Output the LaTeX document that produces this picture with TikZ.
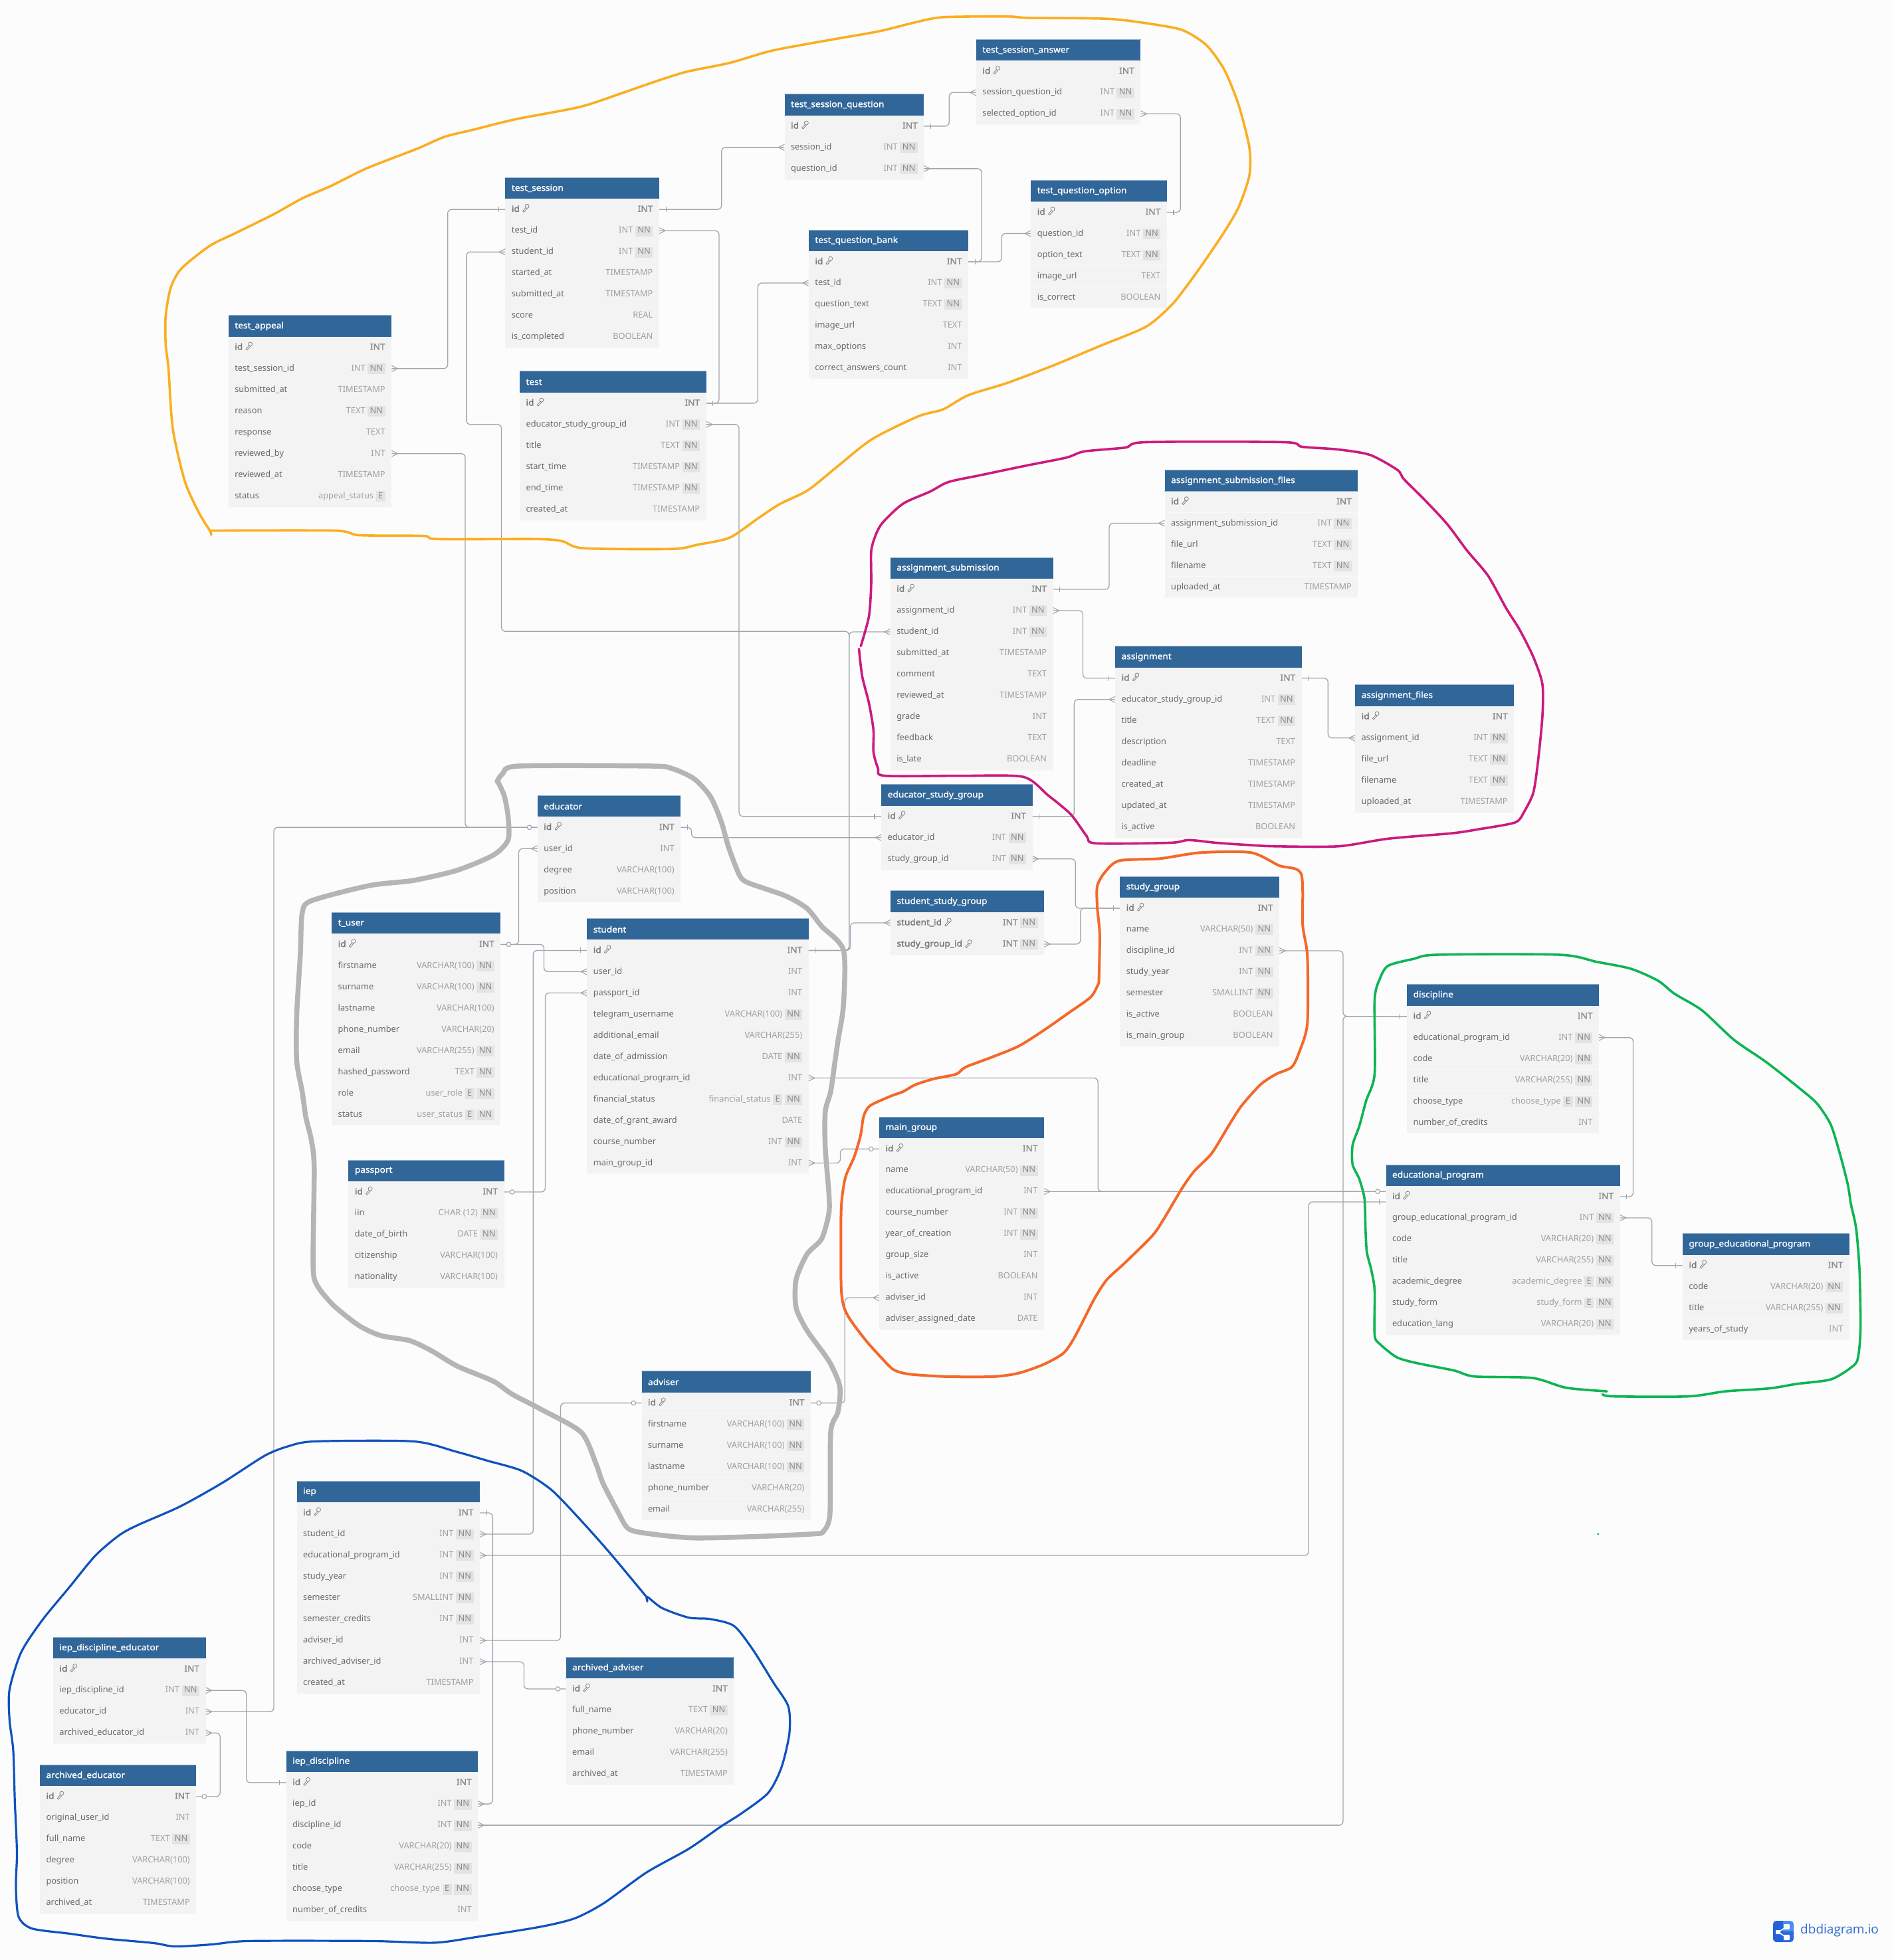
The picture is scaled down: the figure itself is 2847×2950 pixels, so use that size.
\documentclass[tikz,border=0pt]{standalone}
\usepackage{fontspec}
\setmainfont{Noto Sans}[BoldFont={Noto Sans},BoldFeatures={FakeBold=1.5,FakeStretch=1.07}]
\newfontfamily\logofont{Open Sans}
\usetikzlibrary{calc}
\definecolor{pagebg}{HTML}{FCFCFC}
\definecolor{hdrblue}{HTML}{316699}
\definecolor{hdredge}{HTML}{8FAFCB}
\definecolor{rowfill}{HTML}{F3F3F3}
\definecolor{rowline}{HTML}{F8F8F8}
\definecolor{txname}{HTML}{6A6A6A}
\definecolor{txtype}{HTML}{A0A0A0}
\definecolor{txpk}{HTML}{777777}
\definecolor{tagbg}{HTML}{E3E3E3}
\definecolor{tagtx}{HTML}{8A8A8A}
\definecolor{connc}{HTML}{A2A5AF}
\definecolor{hamber}{HTML}{FBAE22}
\definecolor{hmagenta}{HTML}{CC1A7E}
\definecolor{hgrey}{HTML}{B5B5B5}
\definecolor{hred}{HTML}{F4692A}
\definecolor{hgreen}{HTML}{0DB553}
\definecolor{hblue}{HTML}{0F52BE}
\definecolor{logoa}{HTML}{2462D6}
\definecolor{logob}{HTML}{4A8CF2}
\definecolor{logot}{HTML}{2D68CE}
\newcommand\tagbox[1]{\hspace{3.5pt}{\setlength{\fboxsep}{1.5pt}\colorbox{tagbg}{\rule[-3.2pt]{0pt}{13pt}\hspace{2pt}\textnormal{\textcolor{tagtx}{#1}}\hspace{2pt}}}}
\newcommand\NN{\tagbox{NN}}
\newcommand\EE{\tagbox{E}}
\tikzset{
  conn/.style={draw=connc,line width=1.3pt,rounded corners=6pt},
  mk/.style={draw=connc,line width=1.1pt},
  rowbg/.style={fill=rowfill,inner sep=0pt,minimum height=32pt,anchor=west},
  rname/.style={inner sep=0pt,anchor=mid west,text=txname,font=\fontsize{12.8pt}{15pt}\selectfont},
  rtype/.style={inner sep=0pt,anchor=mid east,text=txtype,font=\fontsize{12.8pt}{15pt}\selectfont},
  pkname/.style={rname,text=txpk,font=\fontsize{12.8pt}{15pt}\selectfont\bfseries},
  pktype/.style={rtype,text=txpk!85,font=\fontsize{12.8pt}{15pt}\selectfont\bfseries},
  hdr/.style={fill=hdrblue,text=white,anchor=north west,inner ysep=0pt,inner xsep=9.5pt,minimum height=32pt,align=left,font=\fontsize{12.8pt}{15pt}\selectfont\bfseries},
  keyic/.style={draw=txpk,line width=0.7pt,line join=round},
  stk/.style={line width=#1,line cap=round,line join=round},
}
\newcommand\dbtable[7]{%
  \pgfmathsetmacro\wid{(#3-#2)*1.8817}
  \node[hdr,minimum width=\wid pt,text width=\wid pt-19pt] (#1-h) at (#2,#4) {#5};
  \draw[hdredge,line width=0.9pt] (#1-h.north west) -- (#1-h.north east);
  \draw[hdredge,line width=0.9pt] (#1-h.south west) -- (#1-h.south east);
  \foreach \rn/\rt/\rf [count=\k] in {#7}{
    \pgfmathsetmacro\yy{#4+25.5+17.006*(\k-1)}
    \node[rowbg,minimum width=\wid pt] (#1-\k) at (#2,\yy) {};
    \draw[rowline,line width=0.8pt] (#1-\k.south west) -- (#1-\k.south east);
    \ifnum\k>#6\relax
      \node[rname] (#1-\k-n) at ([xshift=9.5pt,yshift=-1pt]#1-\k.west) {\rn};
      \node[rtype] (#1-\k-t) at ([xshift=-9.5pt,yshift=-1pt]#1-\k.east) {\rt\rf};
    \else
      \node[pkname] (#1-\k-n) at ([xshift=9.5pt,yshift=-1pt]#1-\k.west) {\rn};
      \node[pktype] (#1-\k-t) at ([xshift=-9.5pt,yshift=-1pt]#1-\k.east) {\rt\rf};
      \begin{scope}[shift={([xshift=8.5pt,yshift=0.5pt]#1-\k-n.east)}]
        \draw[keyic] (2.6pt,3.2pt) circle[radius=3pt];
        \draw[keyic] (0.7pt,1pt) -- (-4pt,-4.2pt) -- (-2.2pt,-5.8pt) -- (3pt,0.2pt);
      \end{scope}
    \fi
  }
}
\newcommand\linkhv[3]{\draw[conn] (#1) -- (#2,0 |- #1) -- (#2,0 |- #3) -- (#3);}
\newcommand\manyE[1]{\draw[mk] ([yshift=4.5pt]#1.east) -- ([xshift=9pt]#1.east) -- ([yshift=-4.5pt]#1.east);}
\newcommand\manyW[1]{\draw[mk] ([yshift=4.5pt]#1.west) -- ([xshift=-9pt]#1.west) -- ([yshift=-4.5pt]#1.west);}
\newcommand\oneE[1]{\draw[mk] ([xshift=10pt,yshift=4pt]#1.east) -- ([xshift=10pt,yshift=-4pt]#1.east);}
\newcommand\oneW[1]{\draw[mk] ([xshift=-10pt,yshift=4pt]#1.west) -- ([xshift=-10pt,yshift=-4pt]#1.west);}
\newcommand\zeroE[1]{\draw[mk,fill=pagebg] ([xshift=12pt]#1.east) circle[radius=3.3pt];}
\newcommand\zeroW[1]{\draw[mk,fill=pagebg] ([xshift=-12pt]#1.west) circle[radius=3.3pt];}
\catcode`\_=12
\begin{document}
\begin{tikzpicture}[x=1.8817pt,y=-1.8817pt]
\useasboundingbox (0pt,0pt) rectangle (2847pt,-2950pt);
\fill[pagebg] (0pt,0pt) rectangle (2847pt,-2950pt);

\dbtable{tsa}{780.5}{912}{31.5}{test_session_answer}{1}{id/INT/{},session_question_id/INT/\NN,selected_option_id/INT/\NN}
\dbtable{tsq}{627.3}{738.7}{75.4}{test_session_question}{1}{id/INT/{},session_id/INT/\NN,question_id/INT/\NN}
\dbtable{ts}{404}{527}{142}{test_session}{1}{id/INT/{},test_id/INT/\NN,student_id/INT/\NN,started_at/TIMESTAMP/{},submitted_at/TIMESTAMP/{},score/REAL/{},is_completed/BOOLEAN/{}}
\dbtable{tqo}{824.3}{933}{144.3}{test_question_option}{1}{id/INT/{},question_id/INT/\NN,option_text/TEXT/\NN,image_url/TEXT/{},is_correct/BOOLEAN/{}}
\dbtable{tqb}{646.6}{774.2}{183.9}{test_question_bank}{1}{id/INT/{},test_id/INT/\NN,question_text/TEXT/\NN,image_url/TEXT/{},max_options/INT/{},correct_answers_count/INT/{}}
\dbtable{ta}{182.6}{313}{252.3}{test_appeal}{1}{id/INT/{},test_session_id/INT/\NN,submitted_at/TIMESTAMP/{},reason/TEXT/\NN,response/TEXT/{},reviewed_by/INT/{},reviewed_at/TIMESTAMP/{},status/appeal_status/\EE}
\dbtable{tt}{415.5}{564.6}{297}{test}{1}{id/INT/{},educator_study_group_id/INT/\NN,title/TEXT/\NN,start_time/TIMESTAMP/\NN,end_time/TIMESTAMP/\NN,created_at/TIMESTAMP/{}}
\dbtable{asf}{931.3}{1085.8}{376}{assignment_submission_files}{1}{id/INT/{},assignment_submission_id/INT/\NN,file_url/TEXT/\NN,filename/TEXT/\NN,uploaded_at/TIMESTAMP/{}}
\dbtable{as}{711.9}{842}{445.9}{assignment_submission}{1}{id/INT/{},assignment_id/INT/\NN,student_id/INT/\NN,submitted_at/TIMESTAMP/{},comment/TEXT/{},reviewed_at/TIMESTAMP/{},grade/INT/{},feedback/TEXT/{},is_late/BOOLEAN/{}}
\dbtable{asg}{891.7}{1040.8}{517}{assignment}{1}{id/INT/{},educator_study_group_id/INT/\NN,title/TEXT/\NN,description/TEXT/{},deadline/TIMESTAMP/{},created_at/TIMESTAMP/{},updated_at/TIMESTAMP/{},is_active/BOOLEAN/{}}
\dbtable{af}{1083.6}{1210.6}{547.8}{assignment_files}{1}{id/INT/{},assignment_id/INT/\NN,file_url/TEXT/\NN,filename/TEXT/\NN,uploaded_at/TIMESTAMP/{}}
\dbtable{ed}{429.7}{544.2}{636.3}{educator}{1}{id/INT/{},user_id/INT/{},degree/VARCHAR(100)/{},position/VARCHAR(100)/{}}
\dbtable{esg}{704.7}{825.5}{627.5}{educator_study_group}{1}{id/INT/{},educator_id/INT/\NN,study_group_id/INT/\NN}
\dbtable{ssg}{712}{834.8}{712.6}{student_study_group}{2}{student_id/INT/\NN,study_group_id/INT/\NN}
\dbtable{sg}{895.5}{1022.9}{701}{study_group}{1}{id/INT/{},name/VARCHAR(50)/\NN,discipline_id/INT/\NN,study_year/INT/\NN,semester/SMALLINT/\NN,is_active/BOOLEAN/{},is_main_group/BOOLEAN/{}}
\dbtable{tu}{265.2}{400.2}{729.9}{t_user}{1}{id/INT/{},firstname/VARCHAR(100)/\NN,surname/VARCHAR(100)/\NN,lastname/VARCHAR(100)/{},phone_number/VARCHAR(20)/{},email/VARCHAR(255)/\NN,hashed_password/TEXT/\NN,role/user_role/\EE\NN,status/user_status/\EE\NN}
\dbtable{st}{469.3}{646.5}{734.7}{student}{1}{id/INT/{},user_id/INT/{},passport_id/INT/{},telegram_username/VARCHAR(100)/\NN,additional_email/VARCHAR(255)/{},date_of_admission/DATE/\NN,educational_program_id/INT/{},financial_status/financial_status/\EE\NN,date_of_grant_award/DATE/{},course_number/INT/\NN,main_group_id/INT/{}}
\dbtable{dis}{1125}{1278.5}{787.4}{discipline}{1}{id/INT/{},educational_program_id/INT/\NN,code/VARCHAR(20)/\NN,title/VARCHAR(255)/\NN,choose_type/choose_type/\EE\NN,number_of_credits/INT/{}}
\dbtable{mg}{703}{834.8}{893.5}{main_group}{1}{id/INT/{},name/VARCHAR(50)/\NN,educational_program_id/INT/{},course_number/INT/\NN,year_of_creation/INT/\NN,group_size/INT/{},is_active/BOOLEAN/{},adviser_id/INT/{},adviser_assigned_date/DATE/{}}
\dbtable{pp}{278.6}{403}{927.9}{passport}{1}{id/INT/{},iin/CHAR (12)/\NN,date_of_birth/DATE/\NN,citizenship/VARCHAR(100)/{},nationality/VARCHAR(100)/{}}
\dbtable{ep}{1108.2}{1295.3}{931.6}{educational_program}{1}{id/INT/{},group_educational_program_id/INT/\NN,code/VARCHAR(20)/\NN,title/VARCHAR(255)/\NN,academic_degree/academic_degree/\EE\NN,study_form/study_form/\EE\NN,education_lang/VARCHAR(20)/\NN}
\dbtable{gep}{1345.4}{1478.8}{986.7}{group_educational_program}{1}{id/INT/{},code/VARCHAR(20)/\NN,title/VARCHAR(255)/\NN,years_of_study/INT/{}}
\dbtable{adv}{513}{648.2}{1096.7}{adviser}{1}{id/INT/{},firstname/VARCHAR(100)/\NN,surname/VARCHAR(100)/\NN,lastname/VARCHAR(100)/\NN,phone_number/VARCHAR(20)/{},email/VARCHAR(255)/{}}
\dbtable{iep}{237.3}{383.6}{1184.6}{iep}{1}{id/INT/{},student_id/INT/\NN,educational_program_id/INT/\NN,study_year/INT/\NN,semester/SMALLINT/\NN,semester_credits/INT/\NN,adviser_id/INT/{},archived_adviser_id/INT/{},created_at/TIMESTAMP/{}}
\dbtable{ide}{42.4}{164.4}{1309.6}{iep_discipline_educator}{1}{id/INT/{},iep_discipline_id/INT/\NN,educator_id/INT/{},archived_educator_id/INT/{}}
\dbtable{aa}{452.5}{586.8}{1325.4}{archived_adviser}{1}{id/INT/{},full_name/TEXT/\NN,phone_number/VARCHAR(20)/{},email/VARCHAR(255)/{},archived_at/TIMESTAMP/{}}
\dbtable{ae}{31.8}{156.8}{1411.5}{archived_educator}{1}{id/INT/{},original_user_id/INT/{},full_name/TEXT/\NN,degree/VARCHAR(100)/{},position/VARCHAR(100)/{},archived_at/TIMESTAMP/{}}
\dbtable{idd}{228.8}{382.1}{1400.4}{iep_discipline}{1}{id/INT/{},iep_id/INT/\NN,discipline_id/INT/\NN,code/VARCHAR(20)/\NN,title/VARCHAR(255)/\NN,choose_type/choose_type/\EE\NN,number_of_credits/INT/{}}

% attachment points beside educational_program.id
\node[inner sep=0pt,minimum size=0pt] (epa) at (ep-1.west |- mg-3.east) {};
\node[inner sep=0pt,minimum size=0pt] (epb) at ([yshift=-8pt]ep-1.west) {};

% connectors
\linkhv{tsq-1.east}{759}{tsa-2.west}\oneE{tsq-1}\manyW{tsa-2}
\linkhv{tsa-3.east}{944}{tqo-1.east}\manyE{tsa-3}\oneE{tqo-1}
\linkhv{ts-1.east}{577}{tsq-2.west}\oneE{ts-1}\manyW{tsq-2}
\linkhv{tsq-3.east}{785}{tqb-1.east}\manyE{tsq-3}\oneE{tqb-1}
\linkhv{tqb-1.east}{801}{tqo-2.west}\manyW{tqo-2}
\linkhv{ts-2.east}{575}{tt-1.east}\manyE{ts-2}\oneE{tt-1}
\linkhv{tt-1.east}{606}{tqb-2.west}\manyW{tqb-2}
\linkhv{tt-2.east}{591}{esg-1.west}\manyE{tt-2}\oneW{esg-1}
\linkhv{ta-2.east}{358}{ts-1.west}\manyE{ta-2}\oneW{ts-1}
\draw[conn] (ts-3.west) -- (373,0 |- ts-3.west) -- (373,339.5) -- (401,339.5) -- (401,505) -- (679,505) -- (679,0 |- st-1.east) -- (st-1.east);
\manyW{ts-3}
\linkhv{ta-6.east}{372}{ed-1.west}\manyE{ta-6}
\linkhv{ide-3.east}{219}{ed-1.west}\manyE{ide-3}\zeroW{ed-1}
\linkhv{ed-1.east}{553}{esg-2.west}\oneE{ed-1}\manyW{esg-2}
\linkhv{esg-3.east}{860}{sg-1.west}\manyE{esg-3}\oneW{sg-1}
\linkhv{ssg-2.east}{864}{sg-1.west}\manyE{ssg-2}
\linkhv{asg-2.west}{859}{esg-1.east}\manyW{asg-2}\oneE{esg-1}
\linkhv{asg-1.east}{1062}{af-2.west}\oneE{asg-1}\manyW{af-2}
\linkhv{as-1.east}{887}{asf-2.west}\oneE{as-1}\manyW{asf-2}
\linkhv{as-2.east}{866}{asg-1.west}\manyE{as-2}\oneW{asg-1}
\linkhv{as-3.west}{679}{st-1.east}\manyW{as-3}\oneE{st-1}
\linkhv{ssg-1.west}{680}{st-1.east}\manyW{ssg-1}
\linkhv{tu-1.east}{414.8}{ed-2.west}\manyW{ed-2}
\linkhv{tu-1.east}{435}{st-2.west}\manyW{st-2}\zeroE{tu-1}
\linkhv{iep-2.east}{426.4}{st-1.west}\manyE{iep-2}\oneW{st-1}
\linkhv{pp-1.east}{436}{st-3.west}\zeroE{pp-1}\manyW{st-3}
\linkhv{st-7.east}{878}{epa.west}\manyE{st-7}
\draw[conn] (mg-3.east) -- (epa.west);
\manyE{mg-3}\zeroW{epa}
\linkhv{st-11.east}{672}{mg-1.west}\manyE{st-11}\zeroW{mg-1}
\linkhv{adv-1.east}{675.6}{mg-8.west}\zeroE{adv-1}\manyW{mg-8}
\linkhv{adv-1.west}{448.3}{iep-7.east}\zeroW{adv-1}\manyE{iep-7}
\linkhv{iep-1.east}{394}{idd-2.east}\oneE{iep-1}\manyE{idd-2}
\linkhv{iep-3.east}{1046.5}{epb.west}\manyE{iep-3}\oneW{epb}
\linkhv{sg-3.east}{1074}{dis-1.west}\manyE{sg-3}\oneW{dis-1}
\linkhv{idd-3.east}{1074}{dis-1.west}\manyE{idd-3}
\linkhv{dis-2.east}{1306}{ep-1.east}\manyE{dis-2}\oneE{ep-1}
\linkhv{ep-2.east}{1321}{gep-1.west}\manyE{ep-2}\oneW{gep-1}
\linkhv{iep-8.east}{419}{aa-1.west}\manyE{iep-8}\zeroW{aa-1}
\linkhv{ide-2.east}{197}{idd-1.west}\manyE{ide-2}\oneW{idd-1}
\linkhv{ide-4.east}{176}{ae-1.east}\manyE{ide-4}\zeroE{ae-1}

% hand-drawn outlines
\begin{scope}[x=1.0714pt,y=-0.5293pt,shift={(230pt,-10pt)}]
\draw[stk=3.6pt,hamber] plot[smooth,tension=0.45] coordinates {(80,1490)(255,1490)(290,1503)(380,1505)(400,1514)(540,1514)(575,1520)(605,1540)(730,1542)(765,1530)(810,1510)(850,1455)(880,1415)(920,1375)(960,1310)(1010,1230)(1075,1165)(1110,1145)(1145,1105)(1200,1070)(1265,1020)(1330,965)(1395,910)(1430,850)(1450,800)(1475,730)(1505,640)(1525,570)(1540,480)(1540,400)(1525,280)(1505,180)(1480,110)(1450,70)(1420,55)(1345,35)(1230,32)(1200,28)(1110,30)(1070,45)(1020,70)(950,95)(870,125)(810,160)(750,185)(710,210)(660,245)(600,285)(510,320)(450,350)(410,370)(370,405)(300,460)(250,510)(210,545)(170,590)(115,645)(80,680)(40,745)(25,800)(18,880)(18,960)(22,1030)(28,1200)(45,1350)(65,1440)(80,1490)(82,1502)};
\end{scope}
\begin{scope}[x=0.6824pt,y=-0.4082pt,shift={(1270pt,-650pt)}]
\draw[stk=3.6pt,hmagenta] plot[smooth,tension=0.45] coordinates {(37,790)(55,680)(60,560)(60,440)(70,380)(85,335)(130,265)(190,220)(230,185)(300,160)(400,125)(490,95)(530,72)(620,58)(665,38)(970,38)(1010,55)(1090,65)(1160,85)(1220,140)(1235,175)(1280,250)(1330,340)(1375,440)(1420,530)(1460,650)(1490,730)(1520,830)(1540,930)(1540,1050)(1530,1220)(1520,1330)(1500,1400)(1480,1440)(1400,1465)(1340,1480)(1200,1500)(1090,1528)(950,1528)(880,1522)(820,1515)(760,1505)(720,1515)(555,1517)(535,1490)(500,1410)(450,1340)(395,1272)(260,1268)(90,1268)(75,1240)(65,1180)(65,1100)(55,1000)(40,900)(33,800)};
\end{scope}
\begin{scope}[x=0.5485pt,y=-0.7653pt,shift={(430pt,-1130pt)}]
\draw[stk=7.5pt,hgrey] plot[smooth,tension=0.45] coordinates {(580,60)(595,45)(640,30)(1000,30)(1060,35)(1120,55)(1165,90)(1195,140)(1215,190)(1245,245)(1270,260)(1370,285)(1430,310)(1470,345)(1530,392)(1530,500)(1515,570)(1505,620)(1495,670)(1480,710)(1480,780)(1490,870)(1490,910)(1470,960)(1430,990)(1400,1040)(1400,1095)(1430,1140)(1490,1200)(1520,1250)(1515,1300)(1495,1340)(1493,1500)(1475,1535)(1450,1540)(1300,1545)(1120,1548)(1000,1540)(940,1530)(910,1495)(870,1440)(850,1400)(810,1340)(700,1295)(620,1265)(570,1240)(470,1210)(400,1180)(340,1160)(260,1150)(200,1130)(130,1090)(85,1050)(75,1010)(78,820)(70,765)(55,720)(45,670)(30,610)(30,520)(40,400)(45,320)(70,295)(230,265)(350,255)(470,235)(570,205)(610,175)(610,130)(600,90)(585,65)(580,60)};
\end{scope}
\begin{scope}[x=0.4719pt,y=-0.5293pt,shift={(1250pt,-1270pt)}]
\draw[stk=4pt,hred] plot[smooth,tension=0.45] coordinates {(855,395)(858,260)(850,180)(850,120)(875,80)(920,48)(1050,42)(1180,25)(1340,25)(1430,62)(1500,85)(1505,230)(1520,320)(1520,510)(1495,590)(1470,635)(1420,655)(1370,685)(1310,745)(1270,800)(1215,880)(1160,930)(1120,980)(1060,1070)(1025,1115)(940,1190)(880,1240)(840,1295)(800,1365)(770,1415)(740,1450)(680,1480)(600,1505)(520,1515)(370,1515)(250,1508)(200,1495)(160,1460)(110,1410)(60,1350)(40,1310)(33,1250)(33,1050)(40,980)(50,940)(75,890)(95,830)(105,775)(125,745)(190,718)(230,705)(270,685)(330,668)(400,655)(430,635)(510,608)(600,575)(680,530)(760,480)(830,435)(855,395)};
\end{scope}
\begin{scope}[x=0.5102pt,y=-0.4464pt,shift={(2020pt,-1420pt)}]
\draw[stk=3.6pt,hgreen] plot[smooth,tension=0.45] coordinates {(780,1510)(660,1498)(560,1465)(390,1460)(330,1440)(220,1415)(160,1395)(110,1350)(95,1320)(95,1170)(85,1100)(72,1040)(68,960)(65,860)(50,795)(30,745)(30,680)(50,615)(70,530)(95,440)(95,190)(110,120)(135,75)(210,52)(280,38)(640,38)(750,62)(850,85)(930,125)(980,170)(1060,225)(1155,325)(1250,400)(1350,490)(1400,540)(1440,610)(1465,700)(1490,810)(1500,880)(1515,960)(1525,1100)(1528,1300)(1520,1400)(1500,1430)(1440,1470)(1340,1485)(1260,1500)(1130,1510)(1020,1527)(800,1527)(767,1520)};
\end{scope}
\begin{scope}[x=0.7972pt,y=-0.5102pt,shift={(0pt,-2150pt)}]
\draw[stk=3.2pt,hblue] plot[smooth,tension=0.45] coordinates {(1222,510)(1222,497)(1250,530)(1300,558)(1340,562)(1385,582)(1420,650)(1460,750)(1488,820)(1490,900)(1475,1000)(1450,1075)(1400,1135)(1360,1175)(1300,1240)(1220,1310)(1140,1400)(1085,1445)(1020,1470)(900,1500)(820,1517)(700,1512)(470,1512)(400,1522)(330,1528)(290,1518)(200,1505)(130,1490)(60,1475)(35,1440)(30,1350)(32,1250)(28,1100)(25,950)(18,860)(18,770)(40,660)(80,565)(130,470)(180,375)(225,315)(260,285)(340,230)(420,160)(500,80)(545,52)(595,38)(780,38)(860,68)(920,95)(985,125)(1040,180)(1090,260)(1150,365)(1222,500)};
\end{scope}
\fill[hgreen!70!teal] (1278,1227) circle[radius=1.6pt];

% logo
\fill[logob,rounded corners=5pt] (2668pt,-2891pt) rectangle (2699pt,-2923pt);
\begin{scope}
\clip[rounded corners=5pt] (2668pt,-2891pt) rectangle (2699pt,-2923pt);
\fill[logoa] (2668pt,-2891pt) rectangle (2683pt,-2923pt);
\fill[logoa!80!logob] (2683pt,-2907pt) rectangle (2699pt,-2923pt);
\end{scope}
\draw[white,line width=1.6pt] (2688pt,-2900pt) -- (2676pt,-2908pt) -- (2688pt,-2916pt);
\fill[white,rounded corners=1pt] (2684pt,-2896pt) rectangle (2693pt,-2904pt);
\fill[white,rounded corners=1pt] (2684pt,-2912pt) rectangle (2693pt,-2920pt);
\fill[white,rounded corners=1pt] (2672pt,-2905pt) rectangle (2679pt,-2911pt);
\node[inner sep=0pt,anchor=mid west,text=logot,font=\logofont\fontsize{19pt}{20pt}\selectfont] (logo) at (2709pt,-2908pt) {dbdiagram.io};
\end{tikzpicture}
\end{document}
